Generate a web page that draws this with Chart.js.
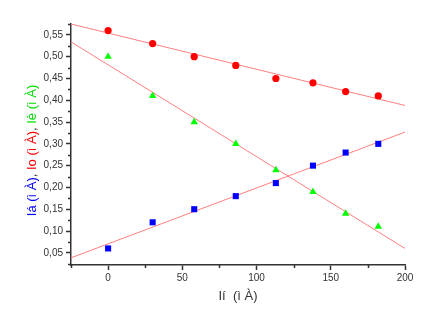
<!DOCTYPE html>
<html>
<head>
<meta charset="utf-8">
<script src="https://cdn.jsdelivr.net/npm/chart.js@4.4.1/dist/chart.umd.min.js"></script>
<style>
html,body{margin:0;padding:0;background:#fff;}
#wrap{width:438px;height:328px;}
</style>
</head>
<body>
<div id="wrap"><canvas id="c" width="438" height="328"></canvas></div>
<script>
// ---- data ----
const xValues = [0, 30, 58, 86, 113, 138, 160, 182];
const ioValues = [0.56, 0.53, 0.50, 0.48, 0.45, 0.44, 0.42, 0.41];
const ieValues = [0.50, 0.41, 0.35, 0.30, 0.24, 0.19, 0.14, 0.11];
const iaValues = [0.06, 0.12, 0.15, 0.18, 0.21, 0.25, 0.28, 0.30];
// fitted straight lines (end points)
const fitX = [-25, 200];
const ioFit = [0.575, 0.388];
const ieFit = [0.534, 0.060];
const iaFit = [0.0385, 0.327];
// axis ticks
const xMajorTicks = [0, 50, 100, 150, 200];
const xMinorTicks = [-25, 25, 75, 125, 175];
const yMajorTicks = [0.05, 0.10, 0.15, 0.20, 0.25, 0.30, 0.35, 0.40, 0.45, 0.50, 0.55];
const yMinorTicks = [0.025, 0.075, 0.125, 0.175, 0.225, 0.275, 0.325, 0.375, 0.425, 0.475, 0.525, 0.575];
const xTitle = 'Ií  (ì À)';
const yTitleParts = [
  {text: 'Iá (ì À)', color: '#0000ff'},
  {text: ', ', color: '#333333'},
  {text: 'Io (ì À)', color: '#ff0000'},
  {text: ', ', color: '#333333'},
  {text: 'Iè (ì À)', color: '#00dd00'}
];

const pts = (xs, ys) => xs.map((x, i) => ({x: x, y: ys[i]}));
const FONT = "'Liberation Sans', Arial, sans-serif";
const AXIS = '#333333';

const minorTicks = {
  id: 'minorTicks',
  afterDraw(chart) {
    const ctx = chart.ctx;
    const xs = chart.scales.x, ys = chart.scales.y;
    const area = chart.chartArea;
    ctx.save();
    ctx.strokeStyle = AXIS;
    ctx.lineWidth = 1.5;
    ctx.beginPath();
    xMinorTicks.forEach(v => {
      const p = Math.round(xs.getPixelForValue(v)) + 0.5;
      ctx.moveTo(p, area.bottom);
      ctx.lineTo(p, area.bottom + 3);
    });
    yMinorTicks.forEach(v => {
      const p = Math.round(ys.getPixelForValue(v)) + 0.5;
      ctx.moveTo(area.left, p);
      ctx.lineTo(area.left - 3, p);
    });
    ctx.stroke();
    // titles
    ctx.font = '13px ' + FONT;
    ctx.fillStyle = AXIS;
    ctx.textAlign = 'center';
    ctx.textBaseline = 'middle';
    ctx.fillText(xTitle, (area.left + area.right) / 2, 296);
    // multicolour rotated y title
    let total = 0;
    yTitleParts.forEach(p => total += ctx.measureText(p.text).width);
    ctx.translate(32, (area.top + area.bottom) / 2 + 6);
    ctx.rotate(-Math.PI / 2);
    ctx.textAlign = 'left';
    let cx = -total / 2;
    yTitleParts.forEach(p => {
      ctx.fillStyle = p.color;
      ctx.fillText(p.text, cx, 0);
      cx += ctx.measureText(p.text).width;
    });
    ctx.restore();
  }
};

const fitStyle = {type: 'line', borderColor: '#ff7f7f', borderWidth: 1, pointRadius: 0, fill: false, showLine: true, order: 2};

new Chart(document.getElementById('c'), {
  type: 'scatter',
  data: {
    datasets: [
      Object.assign({label: 'fit Io', data: pts(fitX, ioFit)}, fitStyle),
      Object.assign({label: 'fit Ie', data: pts(fitX, ieFit)}, fitStyle),
      Object.assign({label: 'fit Ia', data: pts(fitX, iaFit)}, fitStyle),
      {label: 'Io', data: pts(xValues, ioValues), pointStyle: 'circle', pointRadius: 3.6, backgroundColor: '#ff0000', borderColor: '#ff0000', borderWidth: 0, order: 1},
      {label: 'Ie', data: pts(xValues, ieValues), pointStyle: 'triangle', pointRadius: 4.3, backgroundColor: '#00ff00', borderColor: '#00ff00', borderWidth: 0, order: 1},
      {label: 'Ia', data: pts(xValues, iaValues), pointStyle: 'rect', pointRadius: 4.3, backgroundColor: '#0000ff', borderColor: '#0000ff', borderWidth: 0, order: 1}
    ]
  },
  options: {
    responsive: false,
    animation: false,
    layout: {padding: {left: 0, top: 24, right: 33, bottom: 0}},
    plugins: {legend: {display: false}, tooltip: {enabled: false}},
    scales: {
      x: {
        type: 'linear', min: -25, max: 200,
        afterBuildTicks: s => { s.ticks = xMajorTicks.map(v => ({value: v})); },
        afterFit: s => { s.height = 63; },
        grid: {display: true, drawOnChartArea: false, drawTicks: true, tickLength: 5, tickColor: AXIS, tickWidth: 1.5},
        border: {display: true, color: AXIS, width: 1.5},
        ticks: {color: AXIS, font: {family: FONT, size: 10}, padding: 2, maxRotation: 0, autoSkip: false,
          callback: v => String(v)}
      },
      y: {
        type: 'linear', min: 0.022, max: 0.575,
        afterBuildTicks: s => { s.ticks = yMajorTicks.map(v => ({value: v})); },
        afterFit: s => { s.width = 71; },
        grid: {display: true, drawOnChartArea: false, drawTicks: true, tickLength: 5, tickColor: AXIS, tickWidth: 1.5},
        border: {display: true, color: AXIS, width: 1.5},
        ticks: {color: AXIS, font: {family: FONT, size: 10}, padding: 3, autoSkip: false,
          callback: v => v.toFixed(2).replace('.', ',')}
      }
    }
  },
  plugins: [minorTicks]
});
</script>
</body>
</html>
